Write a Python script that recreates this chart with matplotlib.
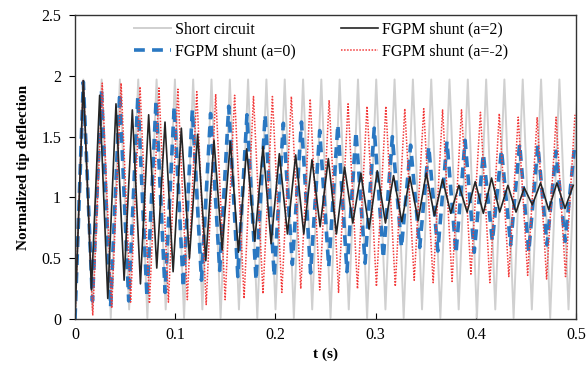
import numpy as np
import matplotlib
matplotlib.use("Agg")
from matplotlib import pyplot as plt

plt.rcParams['font.family'] = ['Liberation Serif', 'DejaVu Serif']

# short circuit (light grey) - peaks and troughs
sc_peak_t = [0.0083, 0.0266, 0.0448, 0.0631, 0.0814, 0.0997, 0.1179, 0.1362, 0.1545, 0.1727,
             0.1910, 0.2093, 0.2276, 0.2458, 0.2641, 0.2824, 0.3006, 0.3189, 0.3372, 0.3555,
             0.3737, 0.3920, 0.4103, 0.4285, 0.4468, 0.4651, 0.4834, 0.5017]
sc_peak_v = [1.97] * 28
sc_trough_t = [0.0174, 0.0357, 0.0540, 0.0722, 0.0905, 0.1088, 0.1271, 0.1453, 0.1636, 0.1819,
               0.2001, 0.2184, 0.2367, 0.2550, 0.2732, 0.2915, 0.3098, 0.3280, 0.3463, 0.3646,
               0.3829, 0.4011, 0.4194, 0.4377, 0.4559, 0.4742, 0.4925]
sc_trough_v = [0.08, 0.01, 0.08, 0.01, 0.08, 0.01, 0.08, 0.01, 0.08, 0.01,
               0.08, 0.01, 0.08, 0.01, 0.08, 0.01, 0.08, 0.01, 0.08, 0.01,
               0.08, 0.01, 0.08, 0.01, 0.08, 0.01, 0.08]

# FGPM shunt a=0 (blue dashed)
a0_peak_t = [0.0083, 0.0264, 0.0446, 0.0627, 0.0809, 0.0990, 0.1171, 0.1353, 0.1534, 0.1716,
             0.1897, 0.2079, 0.2260, 0.2442, 0.2623, 0.2804, 0.2986, 0.3167, 0.3349, 0.3530,
             0.3712, 0.3893, 0.4075, 0.4256, 0.4437, 0.4619, 0.4800, 0.4982]
a0_peak_v = [1.95, 1.88, 1.86, 1.83, 1.80, 1.75, 1.72, 1.69, 1.75, 1.68,
             1.68, 1.61, 1.62, 1.55, 1.60, 1.54, 1.57, 1.50, 1.43, 1.42,
             1.46, 1.47, 1.36, 1.39, 1.44, 1.43, 1.38, 1.39]
a0_trough_t = [0.0174, 0.0355, 0.0536, 0.0718, 0.0899, 0.1081, 0.1262, 0.1444, 0.1625, 0.1807,
               0.1988, 0.2169, 0.2351, 0.2532, 0.2714, 0.2895, 0.3077, 0.3258, 0.3440, 0.3621,
               0.3802, 0.3984, 0.4165, 0.4347, 0.4528, 0.4710, 0.4891]
a0_trough_v = [0.15, 0.10, 0.15, 0.18, 0.22, 0.26, 0.32, 0.40, 0.35, 0.32,
               0.35, 0.45, 0.38, 0.43, 0.39, 0.46, 0.50, 0.59, 0.59, 0.56,
               0.54, 0.55, 0.64, 0.61, 0.55, 0.61, 0.64]

# FGPM shunt a=2 (black)
a2_peak_t = [0.0083, 0.0246, 0.0409, 0.0572, 0.0735, 0.0898, 0.1061, 0.1224, 0.1387, 0.1550,
             0.1713, 0.1876, 0.2039, 0.2202, 0.2365, 0.2528, 0.2690, 0.2853, 0.3016, 0.3179,
             0.3342, 0.3505, 0.3668, 0.3831, 0.3994, 0.4157, 0.4320, 0.4483, 0.4646, 0.4809,
             0.4972]
a2_peak_v = [1.96, 1.84, 1.77, 1.72, 1.68, 1.62, 1.57, 1.52, 1.47, 1.46,
             1.40, 1.42, 1.36, 1.35, 1.31, 1.32, 1.25, 1.20, 1.22, 1.18,
             1.17, 1.20, 1.15, 1.10, 1.13, 1.16, 1.10, 1.08, 1.12, 1.12,
             1.10]
a2_trough_t = [0.0164, 0.0327, 0.0490, 0.0653, 0.0816, 0.0979, 0.1142, 0.1305, 0.1468, 0.1631,
               0.1794, 0.1957, 0.2120, 0.2283, 0.2446, 0.2609, 0.2772, 0.2935, 0.3098, 0.3261,
               0.3424, 0.3587, 0.3750, 0.3913, 0.4075, 0.4238, 0.4401, 0.4564, 0.4727, 0.4890]
a2_trough_v = [0.24, 0.17, 0.32, 0.29, 0.42, 0.39, 0.50, 0.48, 0.57, 0.55,
               0.64, 0.62, 0.70, 0.70, 0.76, 0.70, 0.79, 0.74, 0.79, 0.80,
               0.81, 0.85, 0.87, 0.88, 0.87, 0.88, 0.88, 0.94, 0.90, 0.91]

# FGPM shunt a=-2 (red dotted)
am2_peak_t = [0.0083, 0.0272, 0.0460, 0.0649, 0.0838, 0.1027, 0.1215, 0.1404, 0.1593, 0.1781,
              0.1970, 0.2159, 0.2347, 0.2536, 0.2725, 0.2914, 0.3102, 0.3291, 0.3480, 0.3668,
              0.3857, 0.4046, 0.4234, 0.4423, 0.4612, 0.4801, 0.4989]
am2_peak_v = [1.96, 1.94, 1.94, 1.91, 1.90, 1.89, 1.87, 1.85, 1.84, 1.83,
              1.83, 1.83, 1.81, 1.80, 1.77, 1.75, 1.75, 1.73, 1.73, 1.72,
              1.72, 1.70, 1.69, 1.66, 1.66, 1.66, 1.68]
am2_trough_t = [0.0177, 0.0366, 0.0555, 0.0743, 0.0932, 0.1121, 0.1309, 0.1498, 0.1687, 0.1876,
                0.2064, 0.2253, 0.2442, 0.2630, 0.2819, 0.3008, 0.3196, 0.3385, 0.3574, 0.3763,
                0.3951, 0.4140, 0.4329, 0.4517, 0.4706, 0.4895]
am2_trough_v = [0.03, 0.09, 0.14, 0.13, 0.14, 0.16, 0.12, 0.16, 0.17, 0.21,
                0.22, 0.25, 0.24, 0.22, 0.25, 0.27, 0.27, 0.32, 0.30, 0.31,
                0.37, 0.30, 0.35, 0.36, 0.33, 0.35]


def build(pt, pv, tt, tv):
    t = np.concatenate(([0.0], pt, tt))
    v = np.concatenate(([0.0], pv, tv))
    order = np.argsort(t)
    return t[order], v[order]


fig = plt.figure(figsize=(5.86, 3.66), dpi=100)
ax = fig.add_axes([0.128, 0.128, 0.855, 0.831])

t, v = build(sc_peak_t, sc_peak_v, sc_trough_t, sc_trough_v)
l_sc, = ax.plot(t, v, color='#d0d0d0', lw=1.4, label='Short circuit')
t, v = build(a0_peak_t, a0_peak_v, a0_trough_t, a0_trough_v)
l_a0, = ax.plot(t, v, color='#2a78c2', lw=2.6, ls=(0, (3, 2)), label='FGPM shunt (a=0)')
t, v = build(am2_peak_t, am2_peak_v, am2_trough_t, am2_trough_v)
l_am2, = ax.plot(t, v, color='#f23a3a', lw=1.1, ls=(0, (1, 1)), label='FGPM shunt (a=-2)')
t, v = build(a2_peak_t, a2_peak_v, a2_trough_t, a2_trough_v)
l_a2, = ax.plot(t, v, color='#252525', lw=1.2, label='FGPM shunt (a=2)')

ax.set_xlim(0, 0.5)
ax.set_ylim(0, 2.5)
ax.set_xticks([0, 0.1, 0.2, 0.3, 0.4, 0.5])
ax.set_xticklabels(['0', '0.1', '0.2', '0.3', '0.4', '0.5'])
ax.set_yticks([0, 0.5, 1, 1.5, 2, 2.5])
ax.set_yticklabels(['0', '0.5', '1', '1.5', '2', '2.5'])
ax.tick_params(axis='x', direction='in', length=4, labelsize=11.5, pad=6)
ax.tick_params(axis='y', direction='out', length=4, labelsize=11.5, pad=6)
for s in ax.spines.values():
    s.set_color('#333333')
    s.set_linewidth(1.0)

ax.set_xlabel('t (s)', fontweight='bold', fontsize=11, labelpad=3)
ax.set_ylabel('Normalized tip deflection', fontweight='bold', fontsize=11, labelpad=8)

ax.legend(handles=[l_sc, l_a0, l_a2, l_am2], ncol=2, frameon=False, fontsize=11.5,
          loc='upper left', bbox_to_anchor=(0.09, 1.025), handlelength=2.3,
          handletextpad=0.25, columnspacing=2.85, labelspacing=0.35)

plt.savefig('out.png', dpi=100)
